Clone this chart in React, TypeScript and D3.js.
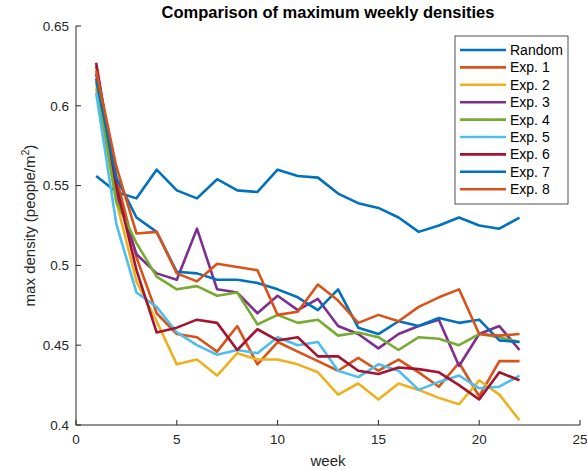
import React from "react";
import * as d3 from "d3";

const weeks = d3.range(1, 23);

const seriesNames = ["Random", "Exp. 1", "Exp. 2", "Exp. 3", "Exp. 4", "Exp. 5", "Exp. 6", "Exp. 7", "Exp. 8"];
const colors = ["#0072BD", "#D95319", "#EDB120", "#7E2F8E", "#77AC30", "#4DBEEE", "#A2142F", "#0072BD", "#D95319"];

const random = [0.556, 0.546, 0.542, 0.56, 0.547, 0.542, 0.554, 0.547, 0.546, 0.56, 0.556, 0.555, 0.545, 0.539, 0.536, 0.53, 0.521, 0.525, 0.53, 0.525, 0.523, 0.53];
const exp1 = [0.625, 0.555, 0.505, 0.47, 0.457, 0.455, 0.446, 0.462, 0.438, 0.452, 0.446, 0.44, 0.434, 0.442, 0.434, 0.441, 0.433, 0.424, 0.439, 0.418, 0.44, 0.44];
const exp2 = [0.611, 0.54, 0.49, 0.465, 0.438, 0.441, 0.431, 0.445, 0.441, 0.441, 0.438, 0.433, 0.419, 0.426, 0.416, 0.426, 0.422, 0.417, 0.413, 0.428, 0.419, 0.403];
const exp3 = [0.62, 0.545, 0.507, 0.495, 0.491, 0.523, 0.485, 0.483, 0.47, 0.481, 0.472, 0.479, 0.462, 0.457, 0.448, 0.457, 0.462, 0.466, 0.437, 0.457, 0.462, 0.447];
const exp4 = [0.615, 0.54, 0.514, 0.493, 0.485, 0.487, 0.481, 0.483, 0.463, 0.469, 0.464, 0.466, 0.456, 0.458, 0.455, 0.447, 0.455, 0.454, 0.45, 0.457, 0.455, 0.452];
const exp5 = [0.608, 0.526, 0.483, 0.474, 0.458, 0.45, 0.444, 0.447, 0.445, 0.455, 0.45, 0.452, 0.434, 0.43, 0.438, 0.434, 0.422, 0.427, 0.431, 0.423, 0.424, 0.431];
const exp6 = [0.627, 0.55, 0.497, 0.458, 0.461, 0.466, 0.464, 0.447, 0.46, 0.453, 0.455, 0.443, 0.443, 0.434, 0.432, 0.436, 0.435, 0.433, 0.425, 0.416, 0.433, 0.428];
const exp7 = [0.617, 0.555, 0.53, 0.521, 0.496, 0.495, 0.491, 0.491, 0.489, 0.485, 0.48, 0.472, 0.485, 0.461, 0.457, 0.465, 0.462, 0.467, 0.464, 0.466, 0.453, 0.452];
const exp8 = [0.622, 0.562, 0.52, 0.521, 0.495, 0.49, 0.501, 0.499, 0.497, 0.469, 0.471, 0.488, 0.478, 0.464, 0.469, 0.465, 0.474, 0.48, 0.485, 0.457, 0.456, 0.457];

const allSeries = [random, exp1, exp2, exp3, exp4, exp5, exp6, exp7, exp8];

const xTicks = [0, 5, 10, 15, 20, 25];
const yTicks = [0.4, 0.45, 0.5, 0.55, 0.6, 0.65];

const W = 587;
const H = 470;
const margin = { top: 26, right: 7, bottom: 45, left: 76 };

export default function App() {
  const innerW = W - margin.left - margin.right;
  const innerH = H - margin.top - margin.bottom;

  const x = d3.scaleLinear().domain([0, 25]).range([0, innerW]);
  const y = d3.scaleLinear().domain([0.4, 0.65]).range([innerH, 0]);

  const line = d3
    .line<number>()
    .x((_, i) => x(weeks[i]))
    .y((d) => y(d));

  const axisColor = "#262626";
  const font = "'Liberation Sans', Arial, sans-serif";

  return (
    <svg
      width={W}
      height={H}
      style={{ position: "absolute", left: 0, top: 0, background: "#fff" }}
      fontFamily={font}
    >
      <text x={margin.left + innerW / 2} y={18} textAnchor="middle" fontSize={16.5} fontWeight="bold" fill="#000">
        Comparison of maximum weekly densities
      </text>
      <g transform={`translate(${margin.left},${margin.top})`}>
        {allSeries.map((s, i) => (
          <path key={i} d={line(s) || ""} fill="none" stroke={colors[i]} strokeWidth={2.6} strokeLinejoin="round" />
        ))}

        {/* axes */}
        <line x1={0} x2={0} y1={0} y2={innerH} stroke={axisColor} strokeWidth={1} />
        <line x1={0} x2={innerW} y1={innerH} y2={innerH} stroke={axisColor} strokeWidth={1} />
        {xTicks.map((t) => (
          <g key={t} transform={`translate(${x(t)},${innerH})`}>
            <line y1={0} y2={-5} stroke={axisColor} />
            <text y={19} textAnchor="middle" fontSize={13.5} fill={axisColor}>
              {t}
            </text>
          </g>
        ))}
        {yTicks.map((t) => (
          <g key={t} transform={`translate(0,${y(t)})`}>
            <line x1={0} x2={5} stroke={axisColor} />
            <text x={-7} dy="0.35em" textAnchor="end" fontSize={13.5} fill={axisColor}>
              {d3.format("~g")(t)}
            </text>
          </g>
        ))}
        <text x={innerW / 2} y={innerH + 41} textAnchor="middle" fontSize={15} fill={axisColor}>
          week
        </text>
        <text
          transform={`translate(${-41},${innerH / 2}) rotate(-90)`}
          textAnchor="middle"
          fontSize={15}
          fill={axisColor}
        >
          max density (people/m
          <tspan fontSize={10.5} dy={-6}>2</tspan>
          <tspan dy={6}>)</tspan>
        </text>
      </g>

      {/* legend */}
      <g transform="translate(455,36)">
        <rect x={0} y={0} width={113} height={168} fill="#fff" stroke={axisColor} strokeWidth={0.8} />
        {seriesNames.map((n, i) => (
          <g key={n} transform={`translate(0,${14 + i * 17.4})`}>
            <line x1={5} x2={51} y1={0} y2={0} stroke={colors[i]} strokeWidth={2.6} />
            <text x={55} dy="0.35em" fontSize={14} fill="#000">
              {n}
            </text>
          </g>
        ))}
      </g>
    </svg>
  );
}
